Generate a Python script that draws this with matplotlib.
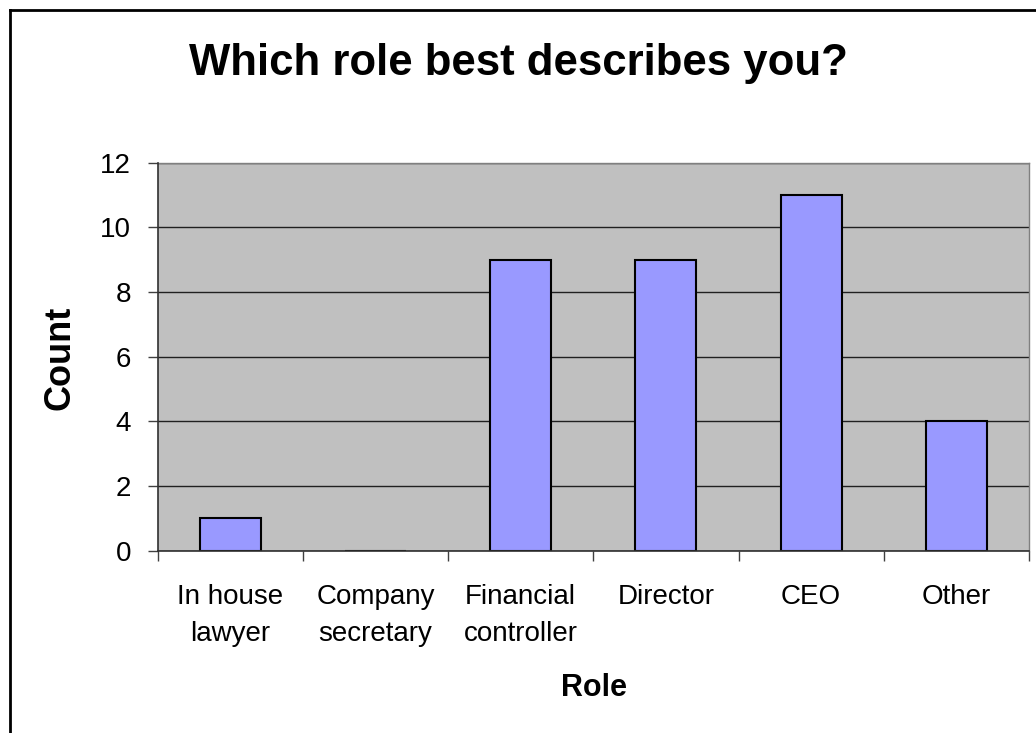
import matplotlib
matplotlib.use("Agg")
import matplotlib.pyplot as plt
from matplotlib.lines import Line2D
import numpy as np

categories = ["In house\nlawyer", "Company\nsecretary", "Financial\ncontroller", "Director", "CEO", "Other"]
counts = [1, 0, 9, 9, 11, 4]
y_ticks = [0, 2, 4, 6, 8, 10, 12]
title = "Which role best describes you?"
x_label = "Role"
y_label = "Count"

plt.rcParams['font.family'] = ['Liberation Sans', 'DejaVu Sans']

W, H = 1036, 733
fig = plt.figure(figsize=(W / 100, H / 100), dpi=100)
fig.patch.set_facecolor('white')

left, right, top, bottom = 157.7, 1029, 162.7, 550.7
ax = fig.add_axes([left / W, 1 - bottom / H, (right - left) / W, (bottom - top) / H])
ax.set_facecolor('#C0C0C0')

x = np.arange(len(categories))
ax.bar(x, counts, width=0.42, color='#9999FF', edgecolor='black', linewidth=1.5, zorder=3)

ax.set_xlim(-0.5, len(categories) - 0.5)
ax.set_ylim(0, 12)
ax.set_yticks(y_ticks)
ax.set_yticklabels([str(v) for v in y_ticks], fontsize=20)
ax.yaxis.grid(True, color='#202020', linewidth=1.0, zorder=1)
ax.set_axisbelow(True)

ax.set_xticks(x)
ax.set_xticklabels(categories, fontsize=20, linespacing=1.53)
ax.tick_params(axis='x', which='major', length=0, pad=24)
ax.set_xticks(np.arange(-0.5, len(categories)), minor=True)
ax.tick_params(axis='x', which='minor', length=7.2, width=1.0, color='#404040', direction='out')
ax.tick_params(axis='y', length=7.2, width=1.0, color='#404040', direction='out', pad=12)

for s in ['top', 'right']:
    ax.spines[s].set_color('#808080')
    ax.spines[s].set_linewidth(1.0)
for s in ['left', 'bottom']:
    ax.spines[s].set_color('#303030')
    ax.spines[s].set_linewidth(1.2)
    ax.spines[s].set_zorder(4)

fig.text(518 / W, 1 - 64 / H, title, fontsize=31.5, fontweight='bold', ha='center', va='center')
fig.text(60 / W, 1 - 358 / H, y_label, fontsize=26, fontweight='bold', rotation=90, ha='center', va='center')
fig.text(594 / W, 1 - 688 / H, x_label, fontsize=22, fontweight='bold', ha='center', va='center')

# chart border (only top and left visible)
x0 = 9.5 / W
y0 = 1 - 9.5 / H
fig.add_artist(Line2D([x0, x0], [0, y0], color='black', linewidth=2, transform=fig.transFigure))
fig.add_artist(Line2D([x0, 1], [y0, y0], color='black', linewidth=2, transform=fig.transFigure))

fig.savefig('out.png', dpi=100)
